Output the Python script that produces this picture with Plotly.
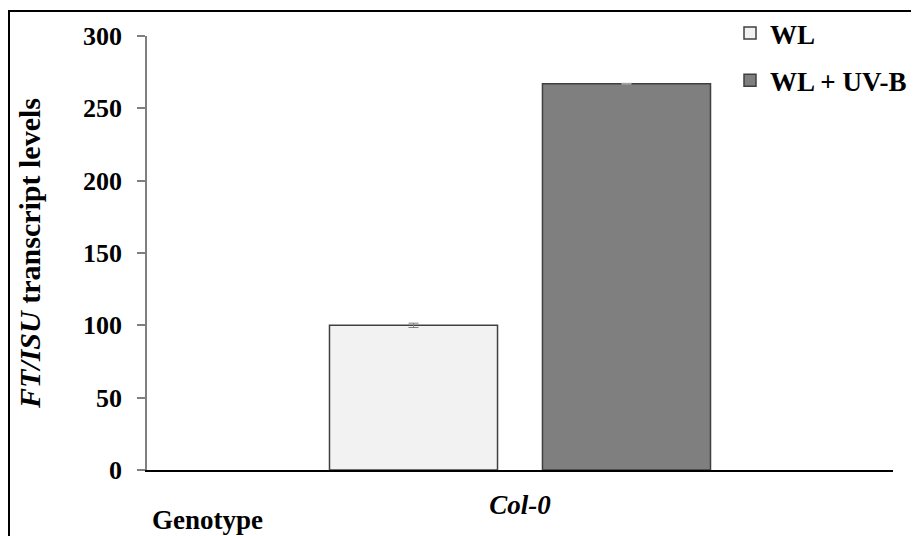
import plotly.graph_objects as go

categories = ["<i>Col-0</i>"]
series_names = ["WL", "WL + UV-B"]
wl_values = [100]
wl_errors = [1.5]
uvb_values = [267]
uvb_errors = [0.3]
y_ticks = [0, 50, 100, 150, 200, 250, 300]

# page body has an 8px margin; draw in figure coords = screen coords - 8
OFF = 8
W, H = 919 - OFF, 536 - OFF
L, R, T, B = 147 - OFF, 26, 36 - OFF, 66
pw, ph = W - L - R, H - T - B

def px(x):  # screen x -> paper
    return (x - OFF - L) / pw

def py(y):  # screen y -> paper
    return (H - B - (y - OFF)) / ph

font = "Liberation Serif, Times New Roman, serif"

fig = go.Figure()
fig.add_trace(go.Bar(
    x=categories, y=wl_values, name=series_names[0], legendgroup="a",
    marker=dict(color="#f2f2f2", line=dict(color="#404040", width=1.5)),
    error_y=dict(type="data", array=wl_errors, color="#808080", thickness=1, width=5),
))
fig.add_trace(go.Bar(
    x=categories, y=uvb_values, name=series_names[1], legendgroup="b",
    marker=dict(color="#7f7f7f", line=dict(color="#404040", width=1.5)),
    error_y=dict(type="data", array=uvb_errors, color="#b0b0b0", thickness=1, width=5),
))

fig.update_layout(
    width=W, height=H,
    margin=dict(l=L, r=R, t=T, b=B, autoexpand=False),
    paper_bgcolor="white", plot_bgcolor="white",
    barmode="group", bargap=0.429, bargroupgap=0.211,
    font=dict(family=font, color="black", size=26),
    showlegend=True,
    legend=dict(x=px(730), y=py(9), xanchor="left", yanchor="top",
                font=dict(family=font, size=27, color="black", weight="bold"),
                itemwidth=30, tracegroupgap=9, bgcolor="rgba(0,0,0,0)",
                traceorder="grouped"),
    xaxis=dict(
        showline=True, linecolor="black", linewidth=2,
        ticks="", range=[-0.5, 0.5], ticklabelstandoff=10,
        tickfont=dict(family=font, size=27, color="black", weight="bold"),
        showgrid=False, zeroline=False,
    ),
    yaxis=dict(
        range=[0, 300], tickvals=y_ticks,
        showline=True, linecolor="#7f7f7f", linewidth=1.5,
        ticks="outside", ticklen=8, tickcolor="#7f7f7f", tickwidth=1.5,
        ticklabelstandoff=10,
        tickfont=dict(family=font, size=26, color="black", weight="bold"),
        showgrid=False, zeroline=False,
        title=dict(text="<i>FT/ISU</i> transcript levels",
                   font=dict(family=font, size=30, color="black", weight="bold"),
                   standoff=34),
    ),
)

fig.add_annotation(text="Genotype", xref="paper", yref="paper",
                   x=px(150), y=py(520), xanchor="left", yanchor="middle",
                   showarrow=False,
                   font=dict(family=font, size=27, color="black", weight="bold"))

fig.add_shape(type="rect", xref="paper", yref="paper",
              x0=px(9), x1=px(918), y0=py(545), y1=py(11),
              line=dict(color="black", width=2), fillcolor="rgba(0,0,0,0)", layer="above")

fig.write_html("out.html")
